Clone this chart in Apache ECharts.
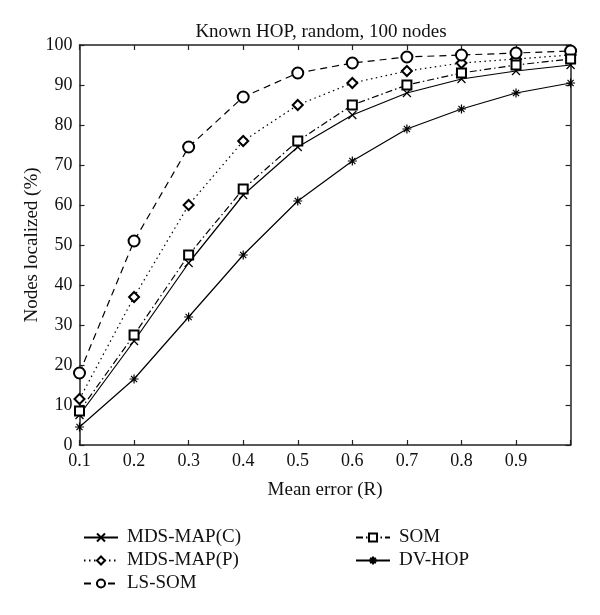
<!DOCTYPE html>
<html>
<head>
<meta charset="utf-8">
<script src="https://cdn.jsdelivr.net/npm/echarts@6/dist/echarts.min.js"></script>
<style>html,body{margin:0;padding:0;background:#fff;}#c{width:600px;height:615px;}</style>
</head>
<body>
<div id="c"></div>
<script>
const xValues = [0.1, 0.2, 0.3, 0.4, 0.5, 0.6, 0.7, 0.8, 0.9, 1.0];
const mdsMapC = [7.5, 26, 45.5, 62.5, 74.5, 82.5, 88, 91.5, 93.5, 95];
const mdsMapP = [11.5, 37, 60, 76, 85, 90.5, 93.5, 95.5, 96.5, 97.5];
const lsSom   = [18, 51, 74.5, 87, 93, 95.5, 97, 97.5, 98, 98.5];
const som     = [8.5, 27.5, 47.5, 64, 76, 85, 90, 93, 95, 96.5];
const dvHop   = [4.5, 16.5, 32, 47.5, 61, 71, 79, 84, 88, 90.5];
const seriesNames = ['MDS-MAP(C)', 'MDS-MAP(P)', 'LS-SOM', 'SOM', 'DV-HOP'];

const font = 'Liberation Serif, DejaVu Serif, serif';
const pair = arr => xValues.map((x, i) => [x, arr[i]]);
const crossSym = 'path://M0,0L10,10M10,0L0,10';
const starSym = 'path://M5,0L5,10M0,5L10,5M1.6,1.6L8.4,8.4M8.4,1.6L1.6,8.4';

function mk(name, data, symbol, size, dash) {
  const isPath = symbol.startsWith('path');
  return {
    name, type: 'line', data: pair(data), symbol, symbolSize: size,
    showAllSymbol: true,
    lineStyle: { color: '#000', width: 1.2, type: dash },
    itemStyle: isPath
      ? { color: 'rgba(0,0,0,0)', borderColor: '#000', borderWidth: 1.2 }
      : { color: '#000', borderColor: '#000', borderWidth: 1 },
    emphasis: { disabled: true },
    z: 3
  };
}

const chart = echarts.init(document.getElementById('c'), null, { renderer: 'canvas' });
const axisCommon = {
  axisLine: { show: true, onZero: false, lineStyle: { color: '#222', width: 1.5 } },
  axisTick: { show: true, inside: true, length: 5, lineStyle: { color: '#222', width: 1.2 } },
  splitLine: { show: false }
};
const legendText = { fontFamily: font, fontSize: 19, color: '#111', padding: [0, 0, 0, 4] };
chart.setOption({
  animation: false,
  backgroundColor: '#fff',
  title: {
    text: 'Known HOP, random, 100 nodes', left: 316, top: 18, textAlign: 'center',
    textStyle: { fontFamily: font, fontSize: 19, fontWeight: 'normal', color: '#111' }
  },
  grid: { left: 79.5, right: 29.4, top: 45, bottom: 170 },
  legend: [
    {
      orient: 'vertical', left: 78, top: 523, itemGap: 4, itemWidth: 34, itemHeight: 10,
      data: ['MDS-MAP(C)', 'MDS-MAP(P)', 'LS-SOM'],
      textStyle: legendText
    },
    {
      orient: 'vertical', left: 350, top: 523, itemGap: 4, itemWidth: 34, itemHeight: 10,
      data: ['SOM', 'DV-HOP'],
      textStyle: legendText
    }
  ],
  xAxis: [
    Object.assign({
      type: 'value', min: 0.1, max: 1.0, interval: 0.1, position: 'bottom',
      name: 'Mean error (R)', nameLocation: 'middle', nameGap: 36,
      nameTextStyle: { fontFamily: font, fontSize: 19, color: '#111' },
      axisLabel: {
        fontFamily: font, fontSize: 18, color: '#111', margin: 7,
        formatter: v => (v > 0.95 ? '' : v.toFixed(1))
      }
    }, axisCommon),
    Object.assign({
      type: 'value', min: 0.1, max: 1.0, interval: 0.1, position: 'top',
      axisLabel: { show: false }
    }, axisCommon)
  ],
  yAxis: [
    Object.assign({
      type: 'value', min: 0, max: 100, interval: 10, position: 'left',
      name: 'Nodes localized (%)', nameLocation: 'middle', nameGap: 38,
      nameMoveOverlap: false,
      nameTextStyle: { fontFamily: font, fontSize: 19, color: '#111' },
      axisLabel: { fontFamily: font, fontSize: 18, color: '#111', margin: 7 }
    }, axisCommon),
    Object.assign({
      type: 'value', min: 0, max: 100, interval: 10, position: 'right',
      axisLabel: { show: false }
    }, axisCommon)
  ],
  series: [
    mk(seriesNames[0], mdsMapC, crossSym, 8, 'solid'),
    mk(seriesNames[1], mdsMapP, 'emptyDiamond', 10, [1.5, 3.5]),
    mk(seriesNames[2], lsSom, 'emptyCircle', 11, [7, 5]),
    mk(seriesNames[3], som, 'emptyRect', 9, [7, 3, 1.5, 3]),
    mk(seriesNames[4], dvHop, starSym, 9, 'solid')
  ]
});
</script>
</body>
</html>
